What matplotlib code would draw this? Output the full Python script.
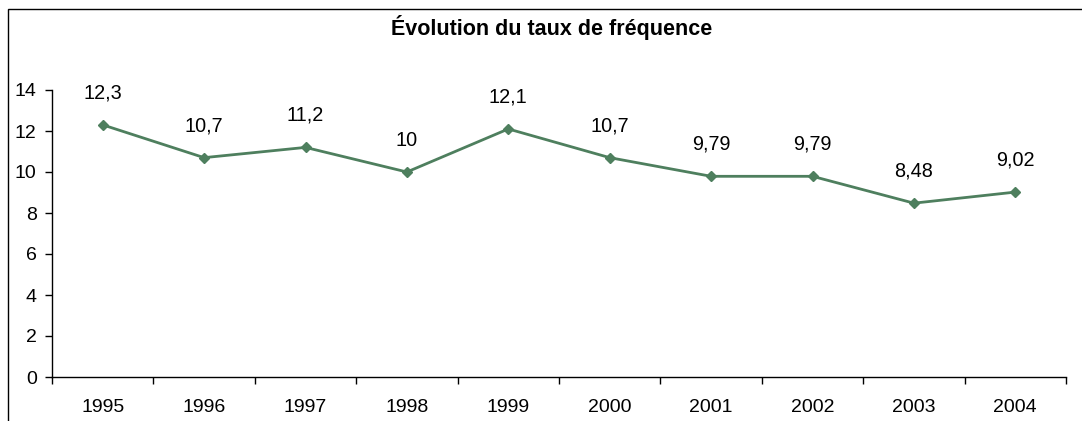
import matplotlib
matplotlib.use("Agg")
import matplotlib.pyplot as plt
from matplotlib.patches import Rectangle

years = ["1995", "1996", "1997", "1998", "1999", "2000", "2001", "2002", "2003", "2004"]
values = [12.3, 10.7, 11.2, 10.0, 12.1, 10.7, 9.79, 9.79, 8.48, 9.02]
labels = ["12,3", "10,7", "11,2", "10", "12,1", "10,7", "9,79", "9,79", "8,48", "9,02"]
yticks = [0, 2, 4, 6, 8, 10, 12, 14]
title = "Évolution du taux de fréquence"

plt.rcParams['font.family'] = ['Liberation Sans', 'DejaVu Sans']
W, H = 1082, 421
fig = plt.figure(figsize=(W / 100, H / 100), dpi=100)
fig.patches.append(Rectangle((8 / W, -0.5), 2, 1.5 - 9 / H, transform=fig.transFigure,
                             fill=False, edgecolor='black', linewidth=1.0))

ax = fig.add_axes([52 / W, 44 / H, (1066 - 52) / W, (377 - 90) / H])
x = list(range(len(years)))
color = '#4E7F5E'
ax.plot(x, values, color=color, linewidth=2, marker='D', markersize=5.5, clip_on=False)
for xi, v, lab in zip(x, values, labels):
    ax.annotate(lab, (xi, v), xytext=(0, 23), textcoords='offset points',
                ha='center', va='center', fontsize=14.3)

ax.set_xlim(-0.5, len(years) - 0.5)
ax.set_ylim(0, 14)
ax.set_yticks(yticks)
ax.set_yticklabels([str(t) for t in yticks], fontsize=14)
ax.set_xticks(x)
ax.set_xticklabels(years, fontsize=14)
ax.set_xticks([i - 0.5 for i in range(len(years) + 1)], minor=True)
ax.tick_params(axis='x', which='major', length=0, pad=16)
ax.tick_params(axis='x', which='minor', length=5, width=1, direction='out')
ax.tick_params(axis='y', length=5, width=1, direction='out', pad=6)
for s in ['top', 'right']:
    ax.spines[s].set_visible(False)
for s in ['left', 'bottom']:
    ax.spines[s].set_linewidth(1)

fig.text(552 / W, 1 - 28 / H, title, ha='center', va='center',
         fontsize=15.5, fontweight='bold')

fig.savefig('out.png', dpi=100)
